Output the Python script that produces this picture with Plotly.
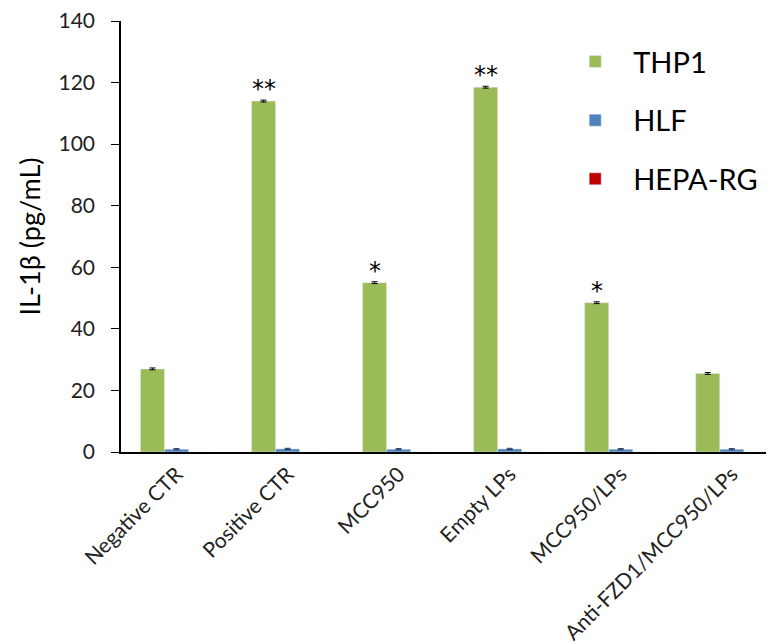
import plotly.graph_objects as go

categories = ["Negative CTR", "Positive CTR", "MCC950", "Empty LPs", "MCC950/LPs", "Anti-FZD1/MCC950/LPs"]
thp1 = [27.0, 114.0, 55.0, 118.5, 48.5, 25.5]
thp1_err = [0.3, 0.3, 0.3, 0.3, 0.3, 0.3]
hlf = [0.9, 1.0, 0.9, 1.0, 0.9, 0.9]
hlf_err = [0.2, 0.2, 0.2, 0.2, 0.2, 0.2]
hepa = [0.0, 0.0, 0.0, 0.0, 0.0, 0.0]
stars = ["", "**", "*", "**", "*", ""]

FONT = "Lato"

fig = go.Figure()
fig.add_trace(go.Bar(
    name="THP1", x=categories, y=thp1, marker_color="#9BBB59", legendgroup="a",
    error_y=dict(type="data", array=thp1_err, color="black", thickness=1, width=3),
))
fig.add_trace(go.Bar(
    name="HLF", x=categories, y=hlf, marker_color="#4F81BD", legendgroup="b",
    error_y=dict(type="data", array=hlf_err, color="#1F3864", thickness=1, width=3),
))
fig.add_trace(go.Bar(
    name="HEPA-RG", x=categories, y=hepa, marker_color="#C00000", legendgroup="c",
))

for cat, val, s in zip(categories, thp1, stars):
    if s:
        fig.add_annotation(x=cat, y=val, text=s, showarrow=False, xshift=-24, yshift=12,
                           yanchor="middle", font=dict(size=24, color="black", family="DejaVu Sans"))

fig.update_layout(
    width=766, height=636,
    margin=dict(l=113, r=0, t=13, b=192),
    plot_bgcolor="white", paper_bgcolor="white",
    barmode="group", bargap=0.35, bargroupgap=0,
    font=dict(family=FONT, color="#222"),
    showlegend=True,
    legend=dict(x=0.668, y=0.965, xanchor="left", yanchor="top",
                font=dict(size=29, family=FONT, color="black"),
                traceorder="grouped", tracegroupgap=18, itemwidth=66,
                bgcolor="rgba(0,0,0,0)"),
)
fig.update_xaxes(
    range=[-0.5, 5.38], showline=True, linecolor="black", linewidth=1.5,
    ticks="", tickangle=-45, tickfont=dict(size=21, family=FONT, color="#222"),
    showgrid=False, automargin=False,
)
fig.update_yaxes(
    range=[0, 140], dtick=20, showline=True, linecolor="black", linewidth=1.5,
    ticks="outside", ticklen=8, tickcolor="black", showgrid=False, zeroline=False,
    tickfont=dict(size=21, family=FONT, color="#222"), automargin=False,
    ticklabelstandoff=12, ticklabeloverflow="allow",
    title=dict(text="IL-1β (pg/mL)", font=dict(size=27, family=FONT, color="black"), standoff=10),
)
fig.write_html("out.html")
